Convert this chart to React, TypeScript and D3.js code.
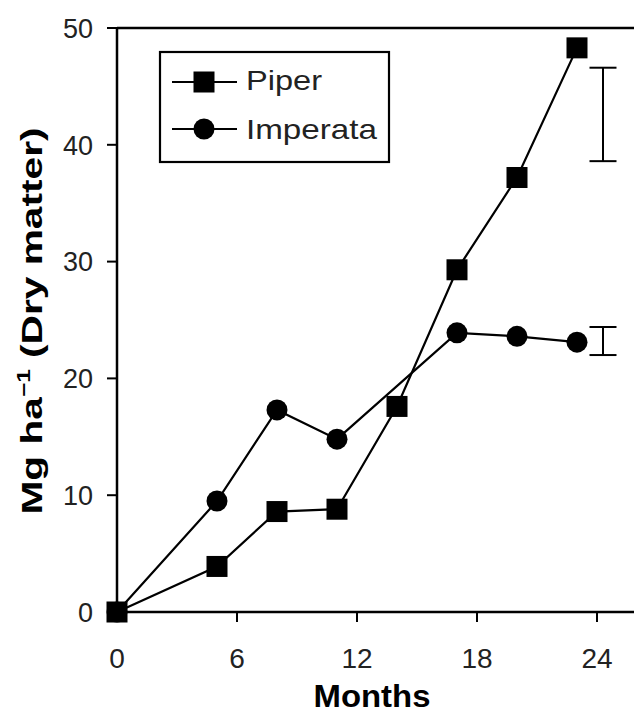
import React from "react";
import * as d3 from "d3";

const months = [0, 5, 8, 11, 14, 17, 20, 23];
const piper = [0, 3.9, 8.6, 8.8, 17.6, 29.3, 37.2, 48.3];
const imperata = [0, 9.5, 17.3, 14.8, 20.0, 23.9, 23.6, 23.1];
const imperataMonths = [0, 5, 8, 11, 17, 20, 23];
const imperataValues = [0, 9.5, 17.3, 14.8, 23.9, 23.6, 23.1];
const xTicks = [0, 6, 12, 18, 24];
const yTicks = [0, 10, 20, 30, 40, 50];
const errorBarMonth = [24.3, 24.3];
const errorLow = [38.6, 22.0];
const errorHigh = [46.6, 24.4];
const seriesNames = ["Piper", "Imperata"];

const W = 634;
const H = 713;
const FONT = "'Liberation Sans', Arial, Helvetica, sans-serif";

export default function App() {
  const x = d3.scaleLinear().domain([0, 26]).range([117, 637]);
  const y = d3.scaleLinear().domain([0, 50]).range([612, 28]);

  const line = d3
    .line<[number, number]>()
    .x((d) => x(d[0]))
    .y((d) => y(d[1]));

  const piperPts: [number, number][] = months.map((m, i) => [m, piper[i]]);
  const impPts: [number, number][] = imperataMonths.map((m, i) => [m, imperataValues[i]]);
  void imperata;

  const sq = 21;
  const r = 10.5;

  return (
    <svg
      width={W}
      height={H}
      style={{ position: "absolute", left: 0, top: 0, background: "#fff" }}
      fontFamily={FONT}
    >
      <rect x={0} y={0} width={W} height={H} fill="#fff" />
      {/* frame */}
      <line x1={x(0)} x2={x(26)} y1={y(50)} y2={y(50)} stroke="#000" strokeWidth={2.5} />
      <line x1={x(0)} x2={x(0)} y1={y(50)} y2={y(0)} stroke="#000" strokeWidth={2.5} />
      <line x1={x(0)} x2={x(26)} y1={y(0)} y2={y(0)} stroke="#000" strokeWidth={2.5} />
      {/* y ticks */}
      {yTicks.map((t) => (
        <g key={"y" + t}>
          <line x1={x(0) - 10} x2={x(0)} y1={y(t)} y2={y(t)} stroke="#000" strokeWidth={2} />
          <text x={93} y={y(t)} dy="0.36em" textAnchor="end" fontSize={27} fill="#222">
            {t}
          </text>
        </g>
      ))}
      {/* x ticks */}
      {xTicks.map((t) => (
        <g key={"x" + t}>
          <line x1={x(t)} x2={x(t)} y1={y(0)} y2={y(0) + 10} stroke="#000" strokeWidth={2} />
          <text x={x(t)} y={668} textAnchor="middle" fontSize={28} fill="#222">
            {t}
          </text>
        </g>
      ))}
      {/* axis titles */}
      <text
        x={372}
        y={707}
        textAnchor="middle"
        fontSize={31}
        fontWeight="bold"
        textLength={117}
        lengthAdjust="spacingAndGlyphs"
      >
        Months
      </text>
      <text
        transform={`translate(42,321) rotate(-90)`}
        textAnchor="middle"
        fontSize={30}
        fontWeight="bold"
        textLength={387}
        lengthAdjust="spacingAndGlyphs"
      >
        Mg ha
        <tspan fontSize={18} dy={-12}>−1</tspan>
        <tspan dy={12}> (Dry matter)</tspan>
      </text>
      {/* error bars */}
      {errorBarMonth.map((m, i) => (
        <g key={"e" + i} stroke="#000" strokeWidth={2}>
          <line x1={x(m)} x2={x(m)} y1={y(errorLow[i])} y2={y(errorHigh[i])} />
          <line x1={x(m) - 13.5} x2={x(m) + 13.5} y1={y(errorLow[i])} y2={y(errorLow[i])} />
          <line x1={x(m) - 13.5} x2={x(m) + 13.5} y1={y(errorHigh[i])} y2={y(errorHigh[i])} />
        </g>
      ))}
      {/* imperata */}
      <path d={line(impPts) || ""} fill="none" stroke="#000" strokeWidth={2.2} />
      {impPts.map((p, i) => (
        <circle key={"c" + i} cx={x(p[0])} cy={y(p[1])} r={r} fill="#000" />
      ))}
      {/* piper */}
      <path d={line(piperPts) || ""} fill="none" stroke="#000" strokeWidth={2.2} />
      {piperPts.map((p, i) => (
        <rect key={"s" + i} x={x(p[0]) - sq / 2} y={y(p[1]) - sq / 2} width={sq} height={sq} fill="#000" />
      ))}
      {/* legend */}
      <rect x={160} y={52} width={229} height={110} fill="#fff" stroke="#000" strokeWidth={2.2} />
      {seriesNames.map((name, i) => {
        const cy = i === 0 ? 82 : 129;
        return (
          <g key={name}>
            <line x1={172} x2={237} y1={cy} y2={cy} stroke="#000" strokeWidth={2} />
            {i === 0 ? (
              <rect x={204 - sq / 2} y={cy - sq / 2} width={sq} height={sq} fill="#000" />
            ) : (
              <circle cx={204} cy={cy} r={r} fill="#000" />
            )}
            <text
              x={246}
              y={cy + 8 + (i === 0 ? 0 : 2)}
              fontSize={28}
              fill="#222"
              textLength={i === 0 ? 76 : 131}
              lengthAdjust="spacingAndGlyphs"
            >
              {name}
            </text>
          </g>
        );
      })}
    </svg>
  );
}
